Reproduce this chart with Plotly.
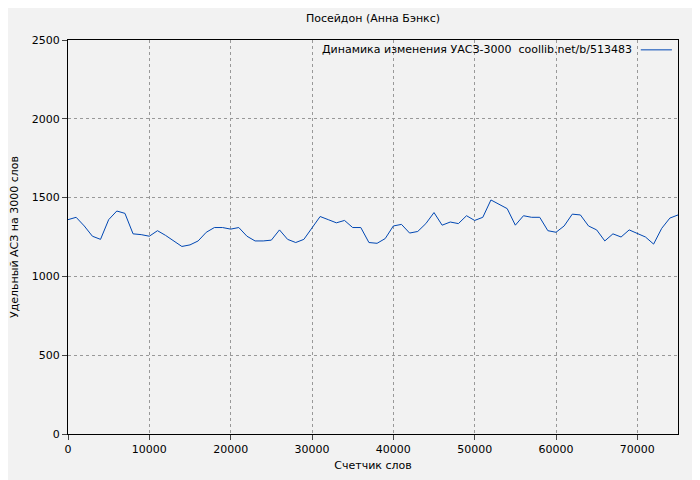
import plotly.graph_objects as go

words = list(range(0, 76000, 1000))
values = [1360,1375,1320,1255,1235,1360,1415,1400,1270,1265,1255,1290,1260,1225,1190,1200,1225,1280,1310,1310,
          1300,1310,1255,1225,1225,1230,1295,1235,1215,1235,1310,1380,1360,1340,1355,1310,1310,1215,1210,1240,
          1320,1330,1275,1285,1335,1405,1325,1345,1335,1385,1355,1375,1485,1460,1430,1325,1385,1375,1375,1290,
          1280,1320,1395,1390,1320,1295,1225,1270,1250,1295,1275,1250,1205,1305,1370,1390]
legend_text = "Динамика изменения УАСЗ-3000  coollib.net/b/513483"

fig = go.Figure(go.Scatter(x=words, y=values, mode="lines", line=dict(color="#0047b3", width=1),
                           showlegend=False))
ax = dict(showline=True, linecolor="black", mirror=True, ticks="outside", ticklen=5,
          showgrid=True, gridcolor="#999999", griddash="dot", zeroline=False, automargin=False,
          tickformat="d")
fig.update_layout(
    width=692, height=472, paper_bgcolor="#f2f2f2", plot_bgcolor="#f2f2f2",
    font=dict(family="DejaVu Sans", size=11, color="black"),
    title=dict(text="Посейдон (Анна Бэнкс)", x=0.5, xref="paper", y=0.978, yanchor="middle", font=dict(size=11)),
    margin=dict(l=60, r=22, t=32, b=46, autoexpand=False),
    xaxis=dict(range=[0, 75000], tickvals=list(range(0, 80000, 10000)),
               title=dict(text="Счетчик слов", standoff=6, font=dict(size=11)), **ax),
    yaxis=dict(range=[0, 2500], dtick=500, title=dict(text="Удельный АСЗ на 3000 слов", standoff=10, font=dict(size=11)), **ax),
    annotations=[dict(text=legend_text, x=0.928, y=0.975, xref="paper", yref="paper",
                      xanchor="right", yanchor="middle", showarrow=False, font=dict(size=11))],
    shapes=[dict(type="line", xref="paper", yref="paper", x0=0.939, x1=0.99, y0=0.975, y1=0.975,
                 line=dict(color="#0047b3", width=1))],
)
fig.write_html("out.html")
